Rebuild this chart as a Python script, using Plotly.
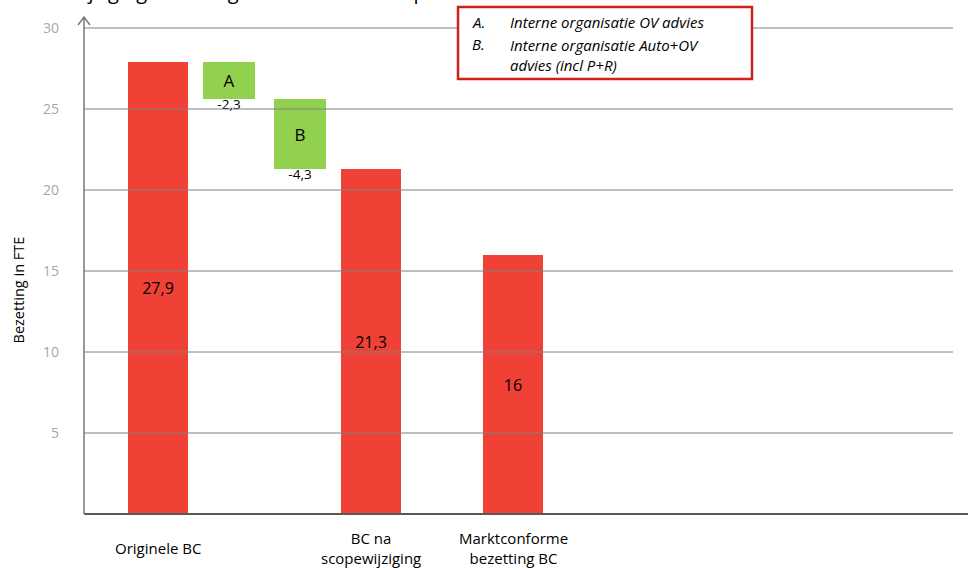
import plotly.graph_objects as go

# ---- data ----
categories = ["Originele BC", "BC na<br>scopewijziging", "Marktconforme<br>bezetting BC"]
totals = [27.9, 21.3, 16.0]
step_names = ["A", "B"]
step_values = [-2.3, -4.3]
y_ticks = [5, 10, 15, 20, 25, 30]
legend_keys = ["A.", "B."]
legend_texts = ["Interne organisatie OV advies", "Interne organisatie Auto+OV<br>advies (incl P+R)"]
title_text = "Wijziging bezetting in FTE door de scope"

FONT = "Open Sans"
RED = "#ef4136"
GREEN = "#92d050"
Y_MAX = 30

def fmt(v):
    s = f"{v:.1f}".replace(".", ",")
    return s[:-2] if s.endswith(",0") else s

# slot positions (layout only)
total_pos = [0, 3, 5]
step_pos = [1, 2]

# waterfall step bases: chain down from the starting total
tops = []
cur = totals[0]
for v in step_values:
    tops.append(cur)
    cur = cur + v
bases = [t + v for t, v in zip(tops, step_values)]

fig = go.Figure()
fig.add_trace(go.Bar(
    x=total_pos, y=totals, width=0.845, marker=dict(color=RED, line=dict(width=0)),
    text=[fmt(v) for v in totals], textposition="inside", insidetextanchor="middle",
    textfont=dict(family=FONT, size=16, color="black"), textangle=0,
    hoverinfo="skip", showlegend=False))
fig.add_trace(go.Bar(
    x=step_pos, y=[-v for v in step_values], base=bases, width=0.732,
    marker=dict(color=GREEN, line=dict(width=0)),
    text=step_names, textposition="inside", insidetextanchor="middle",
    textfont=dict(family=FONT, size=17, color="black"), textangle=0,
    hoverinfo="skip", showlegend=False))
fig.add_trace(go.Scatter(
    x=step_pos, y=bases, mode="text", text=[fmt(v) for v in step_values],
    textposition="bottom center", textfont=dict(family=FONT, size=13.5, color="black"),
    hoverinfo="skip", showlegend=False))

shapes = []
# gridlines drawn above bars
for t in y_ticks:
    shapes.append(dict(type="line", xref="paper", yref="paper", x0=0, x1=1,
                       y0=t / Y_MAX, y1=t / Y_MAX,
                       line=dict(color="#808080", width=1), layer="above"))
# bottom axis line
shapes.append(dict(type="line", xref="paper", yref="paper", x0=0, x1=1.02, y0=0, y1=0,
                   line=dict(color="#595959", width=2), layer="above"))
# left axis with open arrow head
shapes.append(dict(type="path", xref="paper", yref="paper", xsizemode="pixel", ysizemode="pixel",
                   xanchor=0, yanchor=0,
                   path="M0,0 L0,497 M-6,489 L0,497 L6,489",
                   line=dict(color="#7a7a7a", width=1.5), layer="above"))
# legend box
shapes.append(dict(type="rect", xref="paper", yref="paper", x0=0.4304, x1=0.7687, y0=0.895, y1=1.0432,
                   line=dict(color="#d0201b", width=2.5), fillcolor="white", layer="above"))

annotations = []
for p, c in zip(total_pos, categories):
    annotations.append(dict(x=p, y=-0.07, xref="x", yref="paper", text=c, showarrow=False,
                            xanchor="center", yanchor="middle",
                            font=dict(family=FONT, size=15, color="black")))
ly = [1.0123, 0.9671]
for k, t, yy in zip(legend_keys, legend_texts, ly):
    annotations.append(dict(x=0.4442, y=yy, xref="paper", yref="paper", text=f"<i>{k}</i>",
                            showarrow=False, xanchor="left", yanchor="middle",
                            font=dict(family=FONT, size=15, color="black")))
    annotations.append(dict(x=0.4879, y=yy, xref="paper", yref="paper", text=f"<i>{t}</i>",
                            showarrow=False, xanchor="left", yanchor="top" if "<br>" in t else "middle",
                            yshift=11 if "<br>" in t else 0, align="left",
                            font=dict(family=FONT, size=15, color="black")))
annotations.append(dict(x=-0.0759, y=0.46, xref="paper", yref="paper", text="Bezetting in FTE",
                        showarrow=False, textangle=-90, xanchor="center", yanchor="middle",
                        font=dict(family=FONT, size=14.5, color="black")))
annotations.append(dict(x=-0.024, y=1.0423, xref="paper", yref="paper", text=title_text,
                        showarrow=False, xanchor="left", yanchor="bottom",
                        font=dict(family=FONT, size=20, color="black")))

fig.update_layout(
    width=968, height=570,
    margin=dict(l=84, r=15, t=28, b=56),
    paper_bgcolor="white", plot_bgcolor="white",
    barmode="overlay", bargap=0,
    xaxis=dict(range=[-1.042, 11.197], showgrid=False, zeroline=False, showline=False,
               showticklabels=False, ticks="", fixedrange=True),
    yaxis=dict(range=[0, Y_MAX], tickvals=y_ticks, ticktext=[str(t) for t in y_ticks],
               showgrid=False, zeroline=False, showline=False, ticks="",
               ticklabelstandoff=24, tickfont=dict(family=FONT, size=14, color="#a6a6a6"),
               fixedrange=True),
    shapes=shapes, annotations=annotations,
    font=dict(family=FONT),
)

fig.write_html("out.html", config={"displayModeBar": False},
               post_script="document.body.style.margin='0';document.body.style.overflow='hidden';")
